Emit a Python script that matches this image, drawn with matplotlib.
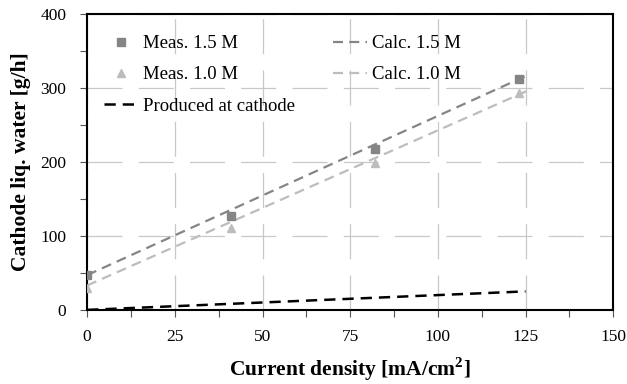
import matplotlib
matplotlib.use("Agg")
import matplotlib.pyplot as plt
from matplotlib.ticker import MultipleLocator

# measured points
x_meas = [0, 41, 82, 123]
meas_15 = [47, 127, 217, 312]
meas_10 = [30, 110, 198, 293]
# calculated lines
x_calc = [0, 126]
calc_15 = [47, 318]
calc_10 = [33, 297]
# water produced at cathode
x_prod = [0, 125]
prod = [0, 25]

plt.rcParams['font.family'] = ['Liberation Serif', 'DejaVu Serif']
plt.rcParams['mathtext.fontset'] = 'custom'
plt.rcParams['mathtext.rm'] = 'Liberation Serif'
plt.rcParams['mathtext.bf'] = 'Liberation Serif:bold'

fig = plt.figure(figsize=(6.27, 3.84), dpi=100)
ax = fig.add_axes([0.139, 0.193, 0.839, 0.771])

ax.grid(True, color='#c8c8c8', linestyle=(0, (28, 13)), linewidth=0.9)
ax.set_axisbelow(True)

dash = (0, (4.5, 2.8))
ax.plot(x_meas, meas_15, 's', color='#858585', markersize=6, label='Meas. 1.5 M', zorder=3)
ax.plot(x_calc, calc_15, color='#858585', linestyle=dash, linewidth=1.6, label='Calc. 1.5 M')
ax.plot(x_meas, meas_10, '^', color='#bdbdbd', markersize=6, label='Meas. 1.0 M', zorder=3)
ax.plot(x_calc, calc_10, color='#bdbdbd', linestyle=dash, linewidth=1.6, label='Calc. 1.0 M')
ax.plot(x_prod, prod, color='black', linestyle=dash, linewidth=1.8, label='Produced at cathode')

ax.set_xlim(0, 150)
ax.set_ylim(0, 400)
ax.xaxis.set_major_locator(MultipleLocator(25))
ax.xaxis.set_minor_locator(MultipleLocator(12.5))
ax.yaxis.set_major_locator(MultipleLocator(100))
ax.yaxis.set_minor_locator(MultipleLocator(50))
ax.tick_params(which='both', direction='out', length=5, width=0.8, color='#555555', labelsize=12.5)
ax.tick_params(axis='x', pad=9)
ax.tick_params(axis='y', pad=10)
for s in ax.spines.values():
    s.set_linewidth(1.5)

ax.set_xlabel(r'Current density [mA/cm$^{\mathbf{2}}$]', fontsize=15.5, fontweight='bold', labelpad=7)
ax.set_ylabel('Cathode liq. water [g/h]', fontsize=15.5, fontweight='bold', labelpad=7)

h, l = ax.get_legend_handles_labels()
order = [0, 2, 4, 1, 3]
ax.legend([h[i] for i in order], [l[i] for i in order], ncol=2, frameon=False,
          loc='upper left', bbox_to_anchor=(0.0, 0.985), fontsize=13.5,
          handlelength=1.8, handletextpad=0.3, columnspacing=2.0, labelspacing=0.75)

fig.savefig('out.png', dpi=100)
